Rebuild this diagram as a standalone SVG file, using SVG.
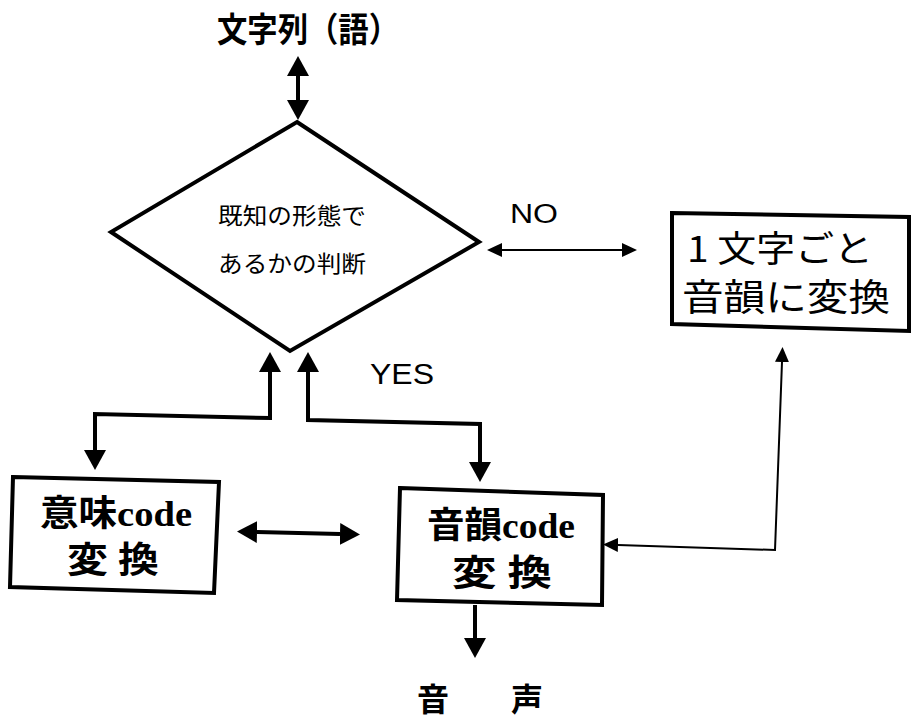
<svg xmlns="http://www.w3.org/2000/svg" width="912" height="719" viewBox="0 0 912 719">
<style>
.bg{fill:#fff}
.shape{fill:#fff;stroke:#000;stroke-width:4;stroke-linejoin:miter}
.thick{fill:none;stroke:#000;stroke-width:4;stroke-linejoin:miter}
.thin{fill:none;stroke:#000;stroke-width:2;stroke-linejoin:miter}
.goth{font-family:"Noto Sans CJK JP","Noto Sans",sans-serif;fill:#000}
.mincho{font-family:"Liberation Serif","Noto Sans CJK JP",serif;font-weight:bold;fill:#000}
.lat{font-family:"Liberation Sans",Arial,sans-serif;fill:#000}
</style>
<defs>
<marker id="big" markerUnits="userSpaceOnUse" markerWidth="20" markerHeight="22" refX="0" refY="11" orient="auto-start-reverse" viewBox="0 0 20 22">
<path d="M0,0 L20,11 L0,22 z" fill="#000"/>
</marker>
<marker id="small" markerUnits="userSpaceOnUse" markerWidth="15" markerHeight="14" refX="0" refY="7" orient="auto-start-reverse" viewBox="0 0 15 14">
<path d="M0,0 L15,7 L0,14 z" fill="#000"/>
</marker>
</defs>
<rect class="bg" x="0" y="0" width="912" height="719"/>

<g id="title">
<text class="goth" x="308" y="42" font-size="34" font-weight="bold" text-anchor="middle" textLength="182" lengthAdjust="spacingAndGlyphs">文字列（語）</text>
</g>

<g id="decision">
<polygon class="shape" points="297,122 479,242 290,351 111,232"/>
<text class="goth" x="292" y="224" font-size="23" text-anchor="middle" textLength="148" lengthAdjust="spacingAndGlyphs">既知の形態で</text>
<text class="goth" x="292" y="272" font-size="23" text-anchor="middle" textLength="148" lengthAdjust="spacingAndGlyphs">あるかの判断</text>
</g>

<g id="per-char">
<polygon class="shape" points="672,213 909,217 909,331 672,324"/>
<text class="goth" x="780" y="262" font-size="36" text-anchor="middle" textLength="186" lengthAdjust="spacingAndGlyphs">1 文字ごと</text>
<text class="goth" x="786" y="311" font-size="37" text-anchor="middle" textLength="208" lengthAdjust="spacingAndGlyphs">音韻に変換</text>
</g>

<g id="meaning">
<polygon class="shape" points="13,477 219,482 214,593 10,587"/>
<text class="mincho" x="116" y="526" font-size="36" text-anchor="middle" textLength="152" lengthAdjust="spacingAndGlyphs">意味code</text>
<text class="mincho" x="113" y="573" font-size="36" text-anchor="middle" textLength="92" lengthAdjust="spacingAndGlyphs">変 換</text>
</g>

<g id="phoneme">
<polygon class="shape" points="400,488 603,495 602,605 397,600"/>
<text class="mincho" x="501" y="538" font-size="36" text-anchor="middle" textLength="148" lengthAdjust="spacingAndGlyphs">音韻code</text>
<text class="mincho" x="502" y="586" font-size="36" text-anchor="middle" textLength="100" lengthAdjust="spacingAndGlyphs">変 換</text>
</g>

<g id="voice">
<text class="goth" x="480" y="711" font-size="32" font-weight="bold" text-anchor="middle" textLength="126" lengthAdjust="spacing">音　声</text>
</g>

<g id="labels">
<text class="lat" x="510" y="223" font-size="27" textLength="48" lengthAdjust="spacingAndGlyphs">NO</text>
<text class="lat" x="370" y="384" font-size="29" textLength="64" lengthAdjust="spacingAndGlyphs">YES</text>
</g>

<g id="connectors">
<path class="thick" d="M298,76 L298,100" marker-start="url(#big)" marker-end="url(#big)"/>
<path class="thin" d="M502,250 L622,250" marker-start="url(#small)" marker-end="url(#small)"/>
<path class="thick" d="M95,450 L95,414 L270,418 L270,372" marker-start="url(#big)" marker-end="url(#big)"/>
<path class="thick" d="M480,462 L480,424 L308,420 L308,372" marker-start="url(#big)" marker-end="url(#big)"/>
<path class="thick" d="M257,532 L340,534" marker-start="url(#big)" marker-end="url(#big)"/>
<path class="thick" d="M475,605 L475,638" marker-end="url(#big)"/>
<path class="thin" d="M618,545 L775,550 L782,362" marker-start="url(#small)" marker-end="url(#small)"/>
</g>
</svg>
